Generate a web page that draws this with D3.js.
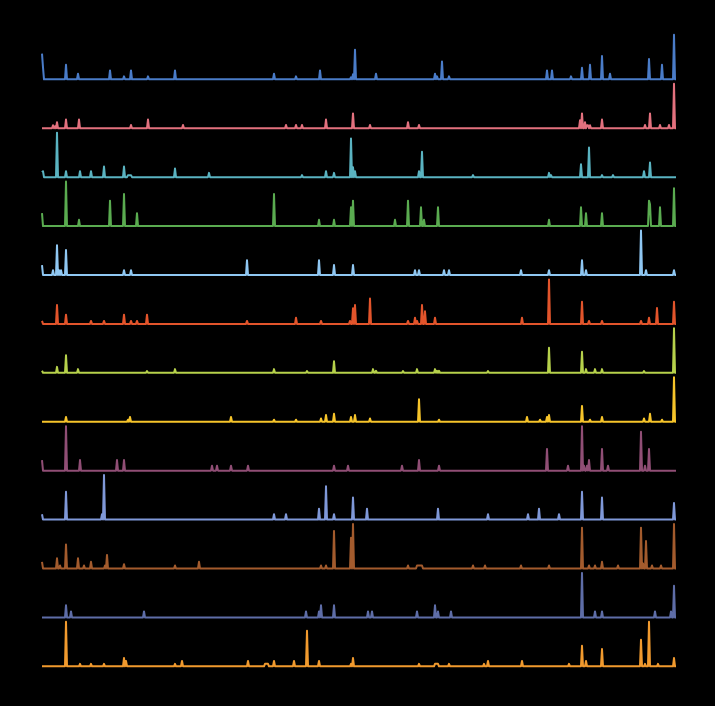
<!DOCTYPE html>
<html>
<head>
<meta charset="utf-8">
<script src="https://cdn.jsdelivr.net/npm/d3@7"></script>
<style>
html,body{margin:0;padding:0;background:#000;}
svg{display:block;}
</style>
</head>
<body>
<svg id="chart" width="715" height="706"></svg>
<script>
// Number of time steps (days) in each series
const days = d3.range(0, 635);

const seriesNames = ["S1","S2","S3","S4","S5","S6","S7","S8","S9","S10","S11","S12","S13"];
const seriesColors = ["#4a7cc8","#e3717e","#5ab3c1","#5aab50","#8fc7f2","#e2542b","#b6d14b","#f6c42a","#904e75","#7f98d8","#a35b2d","#5e6da7","#f19a2e"];

// Non-zero observations per series: [day, value]; every other day is 0
const s1 = [[0,26],[1,12],[24,14.6],[36,5.6],[68,9],[82,3],[89,9],[106,3],[133,9],[232,5.6],[254,3],[278,9],[309,2],[311,5],[313,30],[334,5.6],[393,5.6],[395,3],[400,18],[407,3],[505,9],[510,9],[529,3],[540,11.6],[548,14.6],[560,23.6],[568,5.6],[607,20.6],[620,14.6],[632,45]];
const s2 = [[11,3],[13,2],[15,6],[24,8.7],[37,8.7],[89,3.3],[106,8.7],[141,3.3],[244,3.3],[254,3.3],[260,3.3],[284,8.7],[311,15],[328,3.3],[366,6],[377,3.3],[538,8],[540,15],[543,6],[545,3],[546,3],[548,3],[560,8.7],[603,3.3],[608,15],[618,3.3],[627,3.3],[632,45]];
const s3 = [[0,5],[1,6],[15,45],[24,6],[38,6],[49,6],[62,10.7],[82,10.7],[86,2],[87,2],[88,2],[89,2],[133,8.7],[167,4.3],[260,2],[284,6],[292,4.3],[309,39],[311,10],[313,6],[377,6],[380,25.7],[431,2],[507,4.3],[509,2],[539,13],[547,30],[560,2],[571,2],[602,6],[608,14.7]];
const s4 = [[0,13],[24,45],[37,6.3],[68,25.7],[82,32.3],[95,13],[232,32.3],[277,6.3],[292,6.3],[309,19],[311,25.7],[353,6.3],[366,25.7],[379,19],[382,6.3],[396,19],[507,6.3],[539,19],[544,13],[560,13],[607,25.7],[608,22],[618,19],[632,38.3]];
const s5 = [[0,10],[11,4.7],[15,30],[17,4.7],[19,4.7],[24,25.3],[82,4.7],[89,4.7],[205,15],[277,15],[292,10],[311,10],[373,4.7],[377,4.7],[402,4.7],[407,4.7],[479,4.7],[507,4.7],[540,15],[544,4.7],[599,45],[604,4.7],[632,4.7]];
const s6 = [[0,3],[15,19],[24,9.3],[49,3],[62,3],[82,9.3],[89,3],[95,3],[105,9.3],[205,3],[254,6.3],[279,3],[308,3],[311,15.7],[313,19],[328,25.7],[366,3],[373,6.3],[375,3],[380,19],[383,12.7],[393,6.3],[480,6.3],[507,45],[540,22.3],[547,3],[560,3],[599,3],[607,6.3],[615,16],[632,22.3]];
const s7 = [[0,2],[15,6],[24,17.7],[36,3.7],[105,1.7],[133,3.7],[232,3.7],[265,1.7],[292,11.7],[331,3.7],[334,2],[361,1.7],[375,3.7],[393,3.7],[395,2],[397,2],[446,1.7],[507,25.3],[540,21.3],[544,3.7],[553,3.7],[560,3.7],[602,1.7],[632,45]];
const s8 = [[24,4.7],[86,2],[88,4.7],[189,4.7],[232,2],[254,2],[279,3.3],[284,6.7],[292,8],[309,4.7],[313,6.7],[328,3.3],[377,22.7],[397,2],[485,4.7],[498,2],[505,4.7],[507,6.7],[540,16],[548,2],[560,4.7],[602,3.3],[608,8],[620,2],[632,45]];
const s9 = [[0,10.7],[24,45],[38,10.7],[75,10.7],[82,10.7],[170,5],[175,5],[189,5],[206,5],[292,5],[306,5],[360,5],[377,10.7],[397,5],[505,22],[526,5],[540,45],[542,5],[545,5],[547,10.7],[560,22],[566,5],[599,39.3],[603,5],[607,22]];
const s10 = [[0,5.3],[24,28],[60,5.3],[62,45],[232,5.3],[244,5.3],[277,11],[284,33.7],[292,5.3],[311,22.3],[325,11],[396,11],[446,5.3],[486,5.3],[497,11],[517,5.3],[540,28],[560,22.3],[632,16.7]];
const s11 = [[0,6.7],[15,10.3],[18,3],[24,24.3],[36,10.3],[42,3],[49,6.7],[63,3],[65,13.7],[82,4.3],[133,3],[157,6.7],[279,3],[284,3],[292,38],[309,31],[311,45],[366,3],[375,3],[376,3],[377,3],[378,3],[379,3],[380,3],[431,3],[443,3],[479,3],[507,3],[540,41.3],[547,3],[553,3],[560,6.7],[576,3],[599,41.3],[601,5],[604,27.7],[610,3],[619,3],[632,45]];
const s12 = [[24,12.3],[29,6],[102,6],[264,6],[277,6],[279,12.3],[292,12.3],[326,6],[330,6],[375,6],[393,12.3],[396,6],[409,6],[540,45],[553,6],[560,6],[613,6],[629,6],[632,32]];
const s13 = [[24,44.7],[38,2.5],[49,2.5],[62,2.5],[82,8.3],[84,5.3],[133,2.5],[140,5.3],[206,5.3],[223,2.5],[224,2.5],[225,2.5],[226,2.5],[232,5.3],[252,5.3],[265,35.7],[277,5.3],[309,2.5],[311,8.3],[377,2.5],[393,2.5],[394,2.5],[395,2.5],[396,2.5],[407,2.5],[442,2.5],[446,5.3],[480,5.3],[527,2.5],[540,20.7],[544,5.3],[560,17.3],[599,26.7],[603,2.5],[607,44.7],[616,2.5],[632,8.3]];

const spikes = [s1,s2,s3,s4,s5,s6,s7,s8,s9,s10,s11,s12,s13];

// Dense series built from the observations
const series = seriesNames.map((name, i) => {
  const m = new Map(spikes[i]);
  return {name, color: seriesColors[i], values: days.map(d => ({day: d, value: m.has(d) ? m.get(d) : 0}))};
});

const svg = d3.select("#chart");
const x = d3.scaleLinear().domain([0, days.length - 1]).range([42, 676]);
const row = d3.scalePoint().domain(seriesNames).range([79.3, 666.3]);
const amp = 44.5;

const g = svg.append("g");
series.forEach(s => {
  const y = d3.scaleLinear().domain([0, d3.max(s.values, d => d.value)]).range([row(s.name), row(s.name) - amp]);
  const line = d3.line().x(d => x(d.day)).y(d => y(d.value));
  g.append("path")
    .datum(s.values)
    .attr("fill", "none")
    .attr("stroke", s.color)
    .attr("stroke-width", 2)
    .attr("stroke-linejoin", "round")
    .attr("d", line);
});
</script>
</body>
</html>
